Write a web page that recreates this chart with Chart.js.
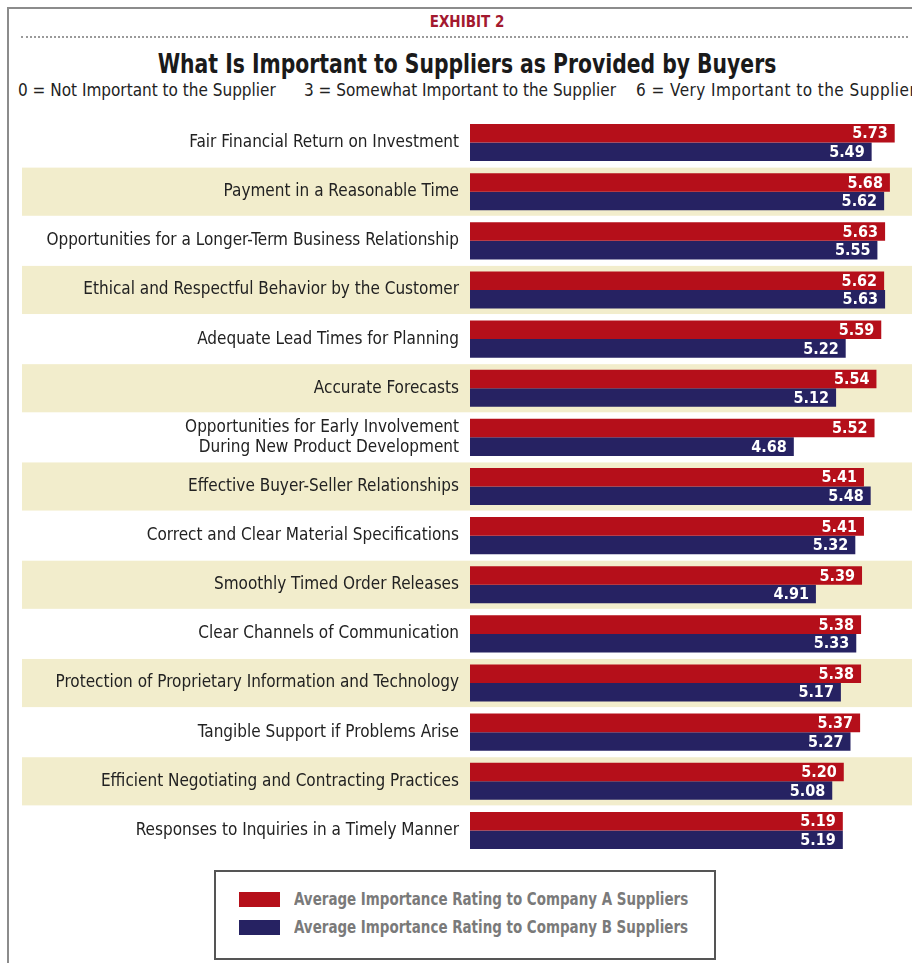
<!DOCTYPE html>
<html>
<head>
<meta charset="utf-8">
<script src="https://cdn.jsdelivr.net/npm/chart.js@4.4.1/dist/chart.umd.min.js"></script>
<style>
    body { margin: 0; background: #fff; }
    #page { position: relative; width: 912px; height: 963px; overflow: hidden; font-family: "DejaVu Sans Condensed", "Liberation Sans Narrow", sans-serif; }
    #frame { position: absolute; left: 7px; top: 7px; width: 920px; height: 970px; border-left: 2px solid #8c8c8c; border-top: 2px solid #8c8c8c; }
    #exhibit { position: absolute; top: 13px; left: 0; width: 934px; text-align: center; color: #a3192f; font-weight: bold; font-size: 15px; }
    #dots { position: absolute; top: 36px; left: 21px; width: 887px; border-top: 2px dotted #9a9a9a; }
    #title { position: absolute; top: 49px; left: 0; width: 934px; text-align: center; color: #1a1a1a; font-weight: bold; font-size: 26px; transform: scaleX(0.87); }
    .sub { position: absolute; top: 80px; font-size: 17px; color: #222; white-space: nowrap; }
    #chartBox { position: absolute; left: 0; top: 110px; width: 912px; height: 750px; }
    #legend { position: absolute; left: 214px; top: 870px; width: 502px; height: 90px; box-sizing: border-box; border: 2px solid #555; }
    .sw { position: absolute; left: 23px; width: 41px; height: 15px; }
    .lt { position: absolute; left: 78px; color: #7a7a7a; font-weight: bold; font-size: 18px; white-space: nowrap; transform: scaleX(0.83); transform-origin: left center; }
</style>
</head>
<body>
<div id="page">
    <div id="frame"></div>
    <div id="exhibit">EXHIBIT 2</div>
    <div id="dots"></div>
    <div id="title">What Is Important to Suppliers as Provided by Buyers</div>
    <div class="sub" style="left:18px">0 = Not Important to the Supplier</div>
    <div class="sub" style="left:304px">3 = Somewhat Important to the Supplier</div>
    <div class="sub" style="left:636px;letter-spacing:0.45px">6 = Very Important to the Supplier</div>
    <div id="chartBox"><canvas id="supplierChart"></canvas></div>
    <div id="legend">
        <div class="sw" style="top:20px;background:#b50f1a"></div>
        <div class="lt" style="top:16px">Average Importance Rating to Company A Suppliers</div>
        <div class="sw" style="top:48px;background:#262262"></div>
        <div class="lt" style="top:44px">Average Importance Rating to Company B Suppliers</div>
    </div>
</div>

<script>
// =======================================================
// DADOS
// =======================================================
const categories = [
    'Fair Financial Return on Investment',
    'Payment in a Reasonable Time',
    'Opportunities for a Longer-Term Business Relationship',
    'Ethical and Respectful Behavior by the Customer',
    'Adequate Lead Times for Planning',
    'Accurate Forecasts',
    ['Opportunities for Early Involvement', 'During New Product Development'],
    'Effective Buyer-Seller Relationships',
    'Correct and Clear Material Specifications',
    'Smoothly Timed Order Releases',
    'Clear Channels of Communication',
    'Protection of Proprietary Information and Technology',
    'Tangible Support if Problems Arise',
    'Efficient Negotiating and Contracting Practices',
    'Responses to Inquiries in a Timely Manner'
];
const companyA = [5.73, 5.68, 5.63, 5.62, 5.59, 5.54, 5.52, 5.41, 5.41, 5.39, 5.38, 5.38, 5.37, 5.20, 5.19];
const companyB = [5.49, 5.62, 5.55, 5.63, 5.22, 5.12, 4.68, 5.48, 5.32, 4.91, 5.33, 5.17, 5.27, 5.08, 5.19];
const seriesNames = ['Average Importance Rating to Company A Suppliers', 'Average Importance Rating to Company B Suppliers'];

const FONT = '"DejaVu Sans Condensed", "Liberation Sans Narrow", sans-serif';

// faixas bege nas linhas pares
const bandPlugin = {
    id: 'bands',
    beforeDraw(chart) {
        const y = chart.scales.y;
        const ctx = chart.ctx;
        const half = (y.bottom - y.top) / categories.length / 2;
        ctx.save();
        ctx.fillStyle = '#f2edcc';
        categories.forEach((c, i) => {
            if (i % 2 === 1) {
                const yc = y.getPixelForValue(i);
                ctx.fillRect(22, yc - half + 0.5, chart.width - 22, half * 2 - 1);
            }
        });
        ctx.restore();
    }
};

// valores em branco no fim de cada barra
const valueLabels = {
    id: 'valueLabels',
    afterDatasetsDraw(chart) {
        const ctx = chart.ctx;
        ctx.save();
        ctx.fillStyle = '#fff';
        ctx.font = 'bold 16px ' + FONT;
        ctx.textAlign = 'right';
        ctx.textBaseline = 'middle';
        chart.data.datasets.forEach((ds, d) => {
            chart.getDatasetMeta(d).data.forEach((bar, i) => {
                ctx.fillText(ds.data[i].toFixed(2), bar.x - 7, bar.y + 1);
            });
        });
        ctx.restore();
    }
};

new Chart(document.getElementById('supplierChart'), {
    type: 'bar',
    data: {
        labels: categories,
        datasets: [
            { label: seriesNames[0], data: companyA, backgroundColor: '#b50f1a' },
            { label: seriesNames[1], data: companyB, backgroundColor: '#262262' }
        ]
    },
    options: {
        indexAxis: 'y',
        responsive: true,
        maintainAspectRatio: false,
        animation: false,
        categoryPercentage: 0.755,
        barPercentage: 1,
        layout: { padding: { top: 8, bottom: 5, left: 0, right: 0 } },
        plugins: {
            legend: { display: false },
            tooltip: { enabled: false }
        },
        scales: {
            x: {
                display: false,
                min: 1.31,
                max: 5.91,
                beginAtZero: false
            },
            y: {
                grid: { display: false, drawTicks: false },
                border: { display: false },
                ticks: {
                    color: '#222',
                    padding: 11,
                    font: { family: FONT, size: 17 }
                },
                afterFit(scale) {
                    scale.width = 470;
                    scale.paddingTop = 0;
                    scale.paddingBottom = 0;
                }
            }
        }
    },
    plugins: [bandPlugin, valueLabels]
});
</script>
</body>
</html>
